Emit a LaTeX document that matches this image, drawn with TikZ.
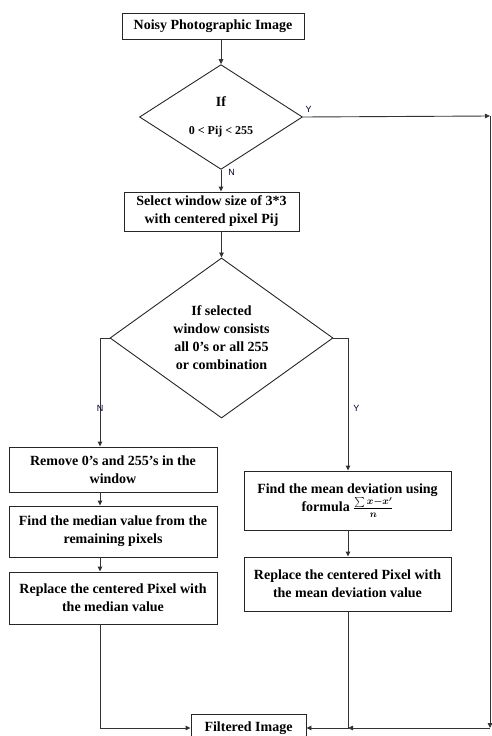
\documentclass[tikz,border=0pt]{standalone}
\usepackage{fontspec}
\setmainfont{Liberation Serif}
\newfontfamily\labfont{Liberation Sans}
\usetikzlibrary{shapes.geometric,arrows.meta}
\tikzset{
  procbox/.style={shape=rectangle, draw=black!85, line width=0.9pt, align=center, inner sep=0pt,
    font=\fontsize{14}{18}\selectfont\bfseries},
  decbox/.style={shape=diamond, draw=black!85, line width=0.9pt, align=center, inner sep=0pt,
    font=\fontsize{14}{18}\selectfont\bfseries},
  yn/.style={font=\labfont\fontsize{9}{10}\selectfont, text=black!80!blue, inner sep=1pt},
  flow/.style={draw=black!80, line width=0.9pt, ->},
  >={Triangle[length=5pt,width=4.5pt]}
}
\begin{document}
\begin{tikzpicture}[x=1pt, y=-1pt]
\useasboundingbox (0,0) rectangle (492,736);
\clip (0,0) rectangle (492,736);
\node[procbox, minimum width=182, minimum height=26] (noisy) at (213,26) {Noisy Photographic Image};
\node[decbox, minimum width=163, minimum height=104] (if1) at (221,117) {If\\[10pt]{\fontsize{12}{14}\selectfont 0 < Pij < 255}};
\node[procbox, minimum width=175, minimum height=39] (select) at (211.5,211.5) {Select window size of 3*3\\with centered pixel Pij};
\node[decbox, minimum width=223, minimum height=156] (if2) at (221.5,338) {If selected\\window consists\\all 0's or all 255\\or combination};
\node[procbox, minimum width=208, minimum height=45] (remove) at (113,469.5) {Remove 0's and 255's in the\\window};
\node[procbox, minimum width=208, minimum height=51] (median) at (113,531.5) {Find the median value from the\\remaining pixels};
\node[procbox, minimum width=208, minimum height=52] (repmed) at (113,598) {Replace the centered Pixel with\\the median value};
\node[procbox, minimum width=207, minimum height=59] (mean) at (347.5,500.5) {Find the mean deviation using\\formula {\boldmath$\frac{\sum x-x'}{n}$}};
\node[procbox, minimum width=207, minimum height=54] (repmean) at (347.5,584) {Replace the centered Pixel with\\the mean deviation value};
\node[procbox, minimum width=115, minimum height=28] (filtered) at (248.5,728) {Filtered Image};

\coordinate (lft) at (100,338);
\coordinate (rgt) at (348,338);
\coordinate (far) at (490,116);

\path[flow] (noisy.south -| if1) -- (if1.north);
\path[flow] (if1.south) -- node[yn, pos=0.1, right=6pt] {N} (if1.south |- select.north);
\path[flow] (if1.east) -- node[yn, pos=0.03, above=3pt] {Y} (far);
\path[flow] (far) -- (far |- filtered.east);
\path[flow] (far |- filtered.east) -- (rgt |- filtered.east);
\path[flow] (select.south -| if2) -- (if2.north);
\path[flow] (if2.west) -- (lft) -- node[yn, pos=0.65] {N} (lft |- remove.north);
\path[flow] (if2.east) -- (rgt) -- node[yn, pos=0.53, right=4pt] {Y} (rgt |- mean.north);
\path[flow] (remove.south -| lft) -- (median.north -| lft);
\path[flow] (median.south -| lft) -- (repmed.north -| lft);
\path[flow] (repmed.south -| lft) |- (filtered.west);
\path[flow] (mean.south -| rgt) -- (repmean.north -| rgt);
\path[flow] (repmean.south -| rgt) |- (filtered.east);
\end{tikzpicture}
\end{document}
